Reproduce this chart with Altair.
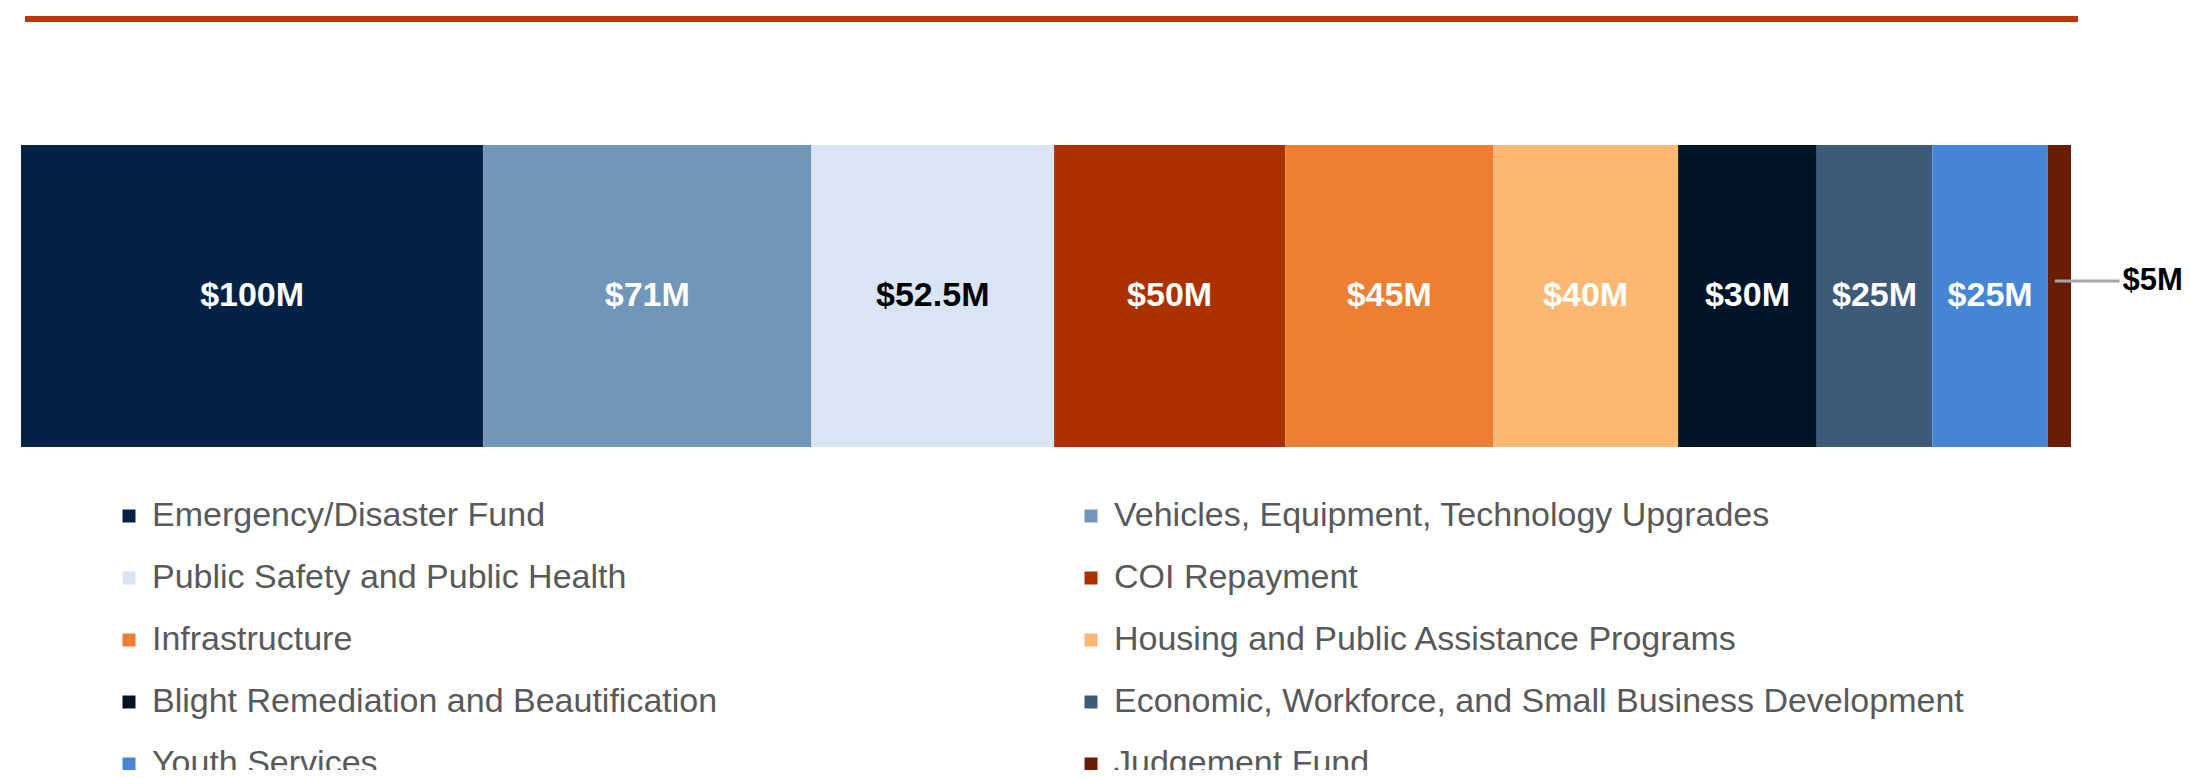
import altair as alt
import pandas as pd

categories = [
    "Emergency/Disaster Fund",
    "Vehicles, Equipment, Technology Upgrades",
    "Public Safety and Public Health",
    "COI Repayment",
    "Infrastructure",
    "Housing and Public Assistance Programs",
    "Blight Remediation and Beautification",
    "Economic, Workforce, and Small Business Development",
    "Youth Services",
    "Judgement Fund",
]
values = [100, 71, 52.5, 50, 45, 40, 30, 25, 25, 5]
labels = ["$100M", "$71M", "$52.5M", "$50M", "$45M", "$40M", "$30M", "$25M", "$25M", "$5M"]
colors = ["#042246", "#7096b9", "#d9e5f4", "#ab3100", "#ed7f33", "#fcb872",
          "#021428", "#3d5a79", "#4486d4", "#6a1c02"]

df = pd.DataFrame({"category": categories, "value": values, "label": labels,
                   "order": list(range(len(categories)))})

total = sum(values)
xscale = alt.Scale(domain=[0, total], nice=False, zero=True)
yscale = alt.Scale(domain=[0, 1], nice=False)

base = alt.Chart(df).transform_stack(
    stack="value", as_=["x0", "x1"], groupby=[], sort=[alt.SortField("order")]
).transform_calculate(mid="datum.x0 + (datum.x1 - datum.x0) * 0.3", lead="datum.x1 + 10.5",
                      center="(datum.x0 + datum.x1) / 2")

bars = base.mark_bar(strokeWidth=0).encode(
    x=alt.X("x0:Q", scale=xscale, axis=None),
    x2="x1:Q",
    y=alt.Y(datum=0, type="quantitative", scale=yscale, axis=None),
    y2=alt.Y2(datum=1),
    color=alt.Color(
        "category:N",
        scale=alt.Scale(domain=categories, range=colors),
        sort=categories,
        legend=alt.Legend(
            title=None, orient="none", legendX=91, legendY=354, columns=2,
            direction="horizontal",
            columnPadding=356, rowPadding=28, symbolType="square", symbolSize=169,
            symbolStrokeWidth=0, labelFontSize=34, labelFont="Liberation Sans",
            labelColor="#595959", labelOffset=6, labelLimit=0,
        ),
    ),
)

inside = base.transform_filter("datum.category != 'Judgement Fund'").mark_text(
    font="Liberation Sans", fontWeight="bold", fontSize=34, baseline="middle", align="center"
).encode(
    x=alt.X("center:Q", scale=xscale),
    y=alt.Y(datum=0.5, type="quantitative", scale=yscale),
    text="label:N",
    color=alt.condition("datum.category == 'Public Safety and Public Health'",
                        alt.value("#000000"), alt.value("#ffffff")),
)

small = base.transform_filter("datum.category == 'Judgement Fund'")
leader = small.mark_rule(color="#a6a6a6", strokeWidth=3).encode(
    x=alt.X("mid:Q", scale=xscale),
    x2="lead:Q",
    y=alt.Y(datum=0.55, type="quantitative", scale=yscale),
)
outside = small.mark_text(
    font="Liberation Sans", fontWeight="bold", fontSize=31, baseline="middle",
    align="left", dx=3, color="#000000"
).encode(
    x=alt.X("lead:Q", scale=xscale),
    y=alt.Y(datum=0.55, type="quantitative", scale=yscale),
    text="label:N",
)

topline = alt.Chart(df).mark_rule(color="#b5380c", strokeWidth=5).encode(
    x=alt.value(4), x2=alt.value(2057), y=alt.value(-126)
)

chart = alt.layer(topline, bars, inside, leader, outside).properties(
    width=2050, height=302,
    padding={"left": 13, "top": 137, "right": 111, "bottom": 323},
    autosize=alt.AutoSizeParams(type="none"),
    background="white",
).configure_view(stroke=None)

chart.save("out.html", embed_options={"renderer": "svg", "actions": False})
